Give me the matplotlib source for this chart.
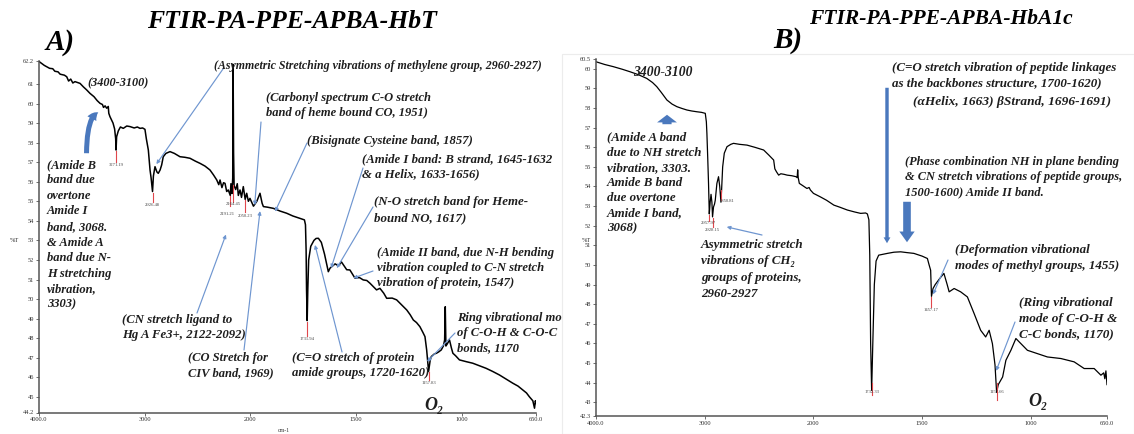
import numpy as np
import matplotlib
matplotlib.use("Agg")
import matplotlib.pyplot as plt
from matplotlib.patches import FancyArrowPatch, Rectangle

W, H = 1134, 434

# ---------------- data: spectrum A (PA-PPE-APBA-HbT) ----------------
hbt_wn = [4000, 3950, 3900, 3870, 3850, 3820, 3800, 3760, 3738, 3720, 3700, 3680, 3660,
          3612, 3580, 3550, 3518, 3480, 3450, 3423, 3400, 3390, 3375, 3360, 3345, 3340,
          3329, 3300, 3285, 3275, 3271.19, 3266, 3250, 3230, 3203, 3170, 3139, 3100, 3070,
          3045, 3020, 2998, 2985, 2966, 2950, 2940, 2926.48, 2918, 2903, 2885, 2872, 2855,
          2840, 2825, 2800, 2761, 2720, 2667, 2620, 2572, 2520, 2477, 2430, 2383, 2350,
          2319, 2300, 2288, 2270, 2255, 2241, 2225, 2210, 2191.21, 2185, 2175, 2168,
          2164.45, 2160, 2155, 2140, 2125, 2115, 2099, 2085, 2068, 2050.23, 2036, 2020,
          2005, 1986, 1970, 1955, 1945, 1939, 1920, 1892, 1860, 1829, 1800, 1766, 1745,
          1740, 1737, 1735, 1731.94, 1729, 1725, 1715, 1700, 1690, 1679, 1665, 1650,
          1640, 1632, 1624, 1600, 1584, 1570, 1545, 1530, 1506, 1485, 1467, 1450,
          1435, 1404, 1388, 1370, 1356, 1330, 1309, 1285, 1261, 1245, 1230, 1215,
          1199, 1185, 1175, 1167, 1157.83, 1150, 1145, 1130, 1121, 1110, 1098, 1088,
          1082, 1079, 1076, 1070, 1059, 1050, 1043, 1030, 1012, 980, 949, 920, 886,
          855, 823, 790, 760, 735, 712, 695, 681, 665, 657, 653, 650]
hbt_T = [62.15, 61.95, 61.8, 61.78, 61.65, 61.62, 61.5, 61.45, 61.37, 61.15, 61.25, 61.05,
         61.12, 61.03, 60.85, 60.7, 60.52, 60.35, 60.15, 60.01, 59.95, 59.8, 59.88, 59.76,
         59.85, 59.5, 59.33, 59.0, 58.7, 58.2, 57.62, 58.3, 58.6, 58.8, 58.73, 58.85,
         58.82, 58.75, 58.8, 58.73, 58.75, 58.68, 58.2, 57.62, 56.6, 56.2, 55.5, 56.3,
         56.77, 56.5, 56.43, 56.6, 56.86, 57.28, 57.45, 57.54, 57.45, 57.28, 57.25, 57.2,
         57.05, 56.94, 56.8, 56.6, 56.35, 56.09, 55.85, 56.09, 55.7, 55.95, 55.92, 55.5,
         55.58, 55.3, 55.9, 55.4, 56.2, 62.0, 57.5, 55.8, 55.6, 55.9, 55.3, 55.58, 55.2,
         55.75, 55.1, 55.41, 55.0, 55.15, 54.75, 55.0, 55.41, 54.9, 54.73, 54.7, 54.64,
         54.5, 54.39, 54.25, 54.13, 54.05, 53.8, 52.5, 50.5, 48.9, 50.5, 52.0, 52.7,
         53.0, 53.1, 53.11, 52.9, 52.3, 51.8, 51.4, 51.58, 51.8, 51.7, 51.9, 51.5, 51.49,
         51.07, 51.1, 50.98, 50.95, 50.81, 50.47, 50.55, 50.3, 50.04, 50.05, 49.96, 49.7,
         49.44, 49.2, 48.93, 48.8, 48.59, 48.3, 48.08, 47.4, 46.3, 46.9, 47.06, 47.2,
         47.23, 47.3, 47.4, 47.6, 47.91, 49.61, 47.6, 47.7, 47.91, 47.5, 47.23, 47.1,
         46.89, 46.8, 46.72, 46.6, 46.46, 46.3, 46.12, 45.9, 45.7, 45.55, 45.35, 45.2,
         45.0, 44.8, 44.42, 44.8, 44.67]
hbt_peaks = [3271.19, 2926.48, 2164.45, 2191.21, 2050.23, 1731.94, 1157.83]

# ---------------- data: spectrum B (PA-PPE-APBA-HbA1c) ----------------
hba_wn = [4000, 3920, 3841, 3760, 3687, 3610, 3533, 3480, 3441, 3400, 3348, 3300,
          3256, 3210, 3164, 3120, 3072, 3030, 2995, 2985, 2980, 2972, 2965, 2957.97,
          2950, 2942, 2934, 2928.15, 2919, 2910, 2903, 2888, 2873, 2862, 2850.81, 2845,
          2835, 2820, 2795, 2760, 2735, 2680, 2611, 2540, 2458, 2410, 2375, 2366, 2355,
          2340, 2320, 2300, 2270, 2242, 2200, 2160, 2150, 2145, 2140, 2130, 2100, 2060,
          2040, 2028, 2000, 1968, 1940, 1906, 1880, 1844, 1810, 1783, 1760, 1752, 1745,
          1741, 1737, 1732.33, 1727, 1720, 1712, 1700, 1660, 1630, 1599, 1570, 1538,
          1500, 1476, 1468, 1461, 1457.17, 1450, 1440, 1420, 1400, 1385, 1376, 1353,
          1323, 1292, 1261, 1231, 1208, 1192, 1177, 1165, 1157.66, 1150, 1130, 1115,
          1092, 1069, 1046, 1016, 970, 924, 862, 801, 755, 709, 678, 665, 660, 655, 650]
hba_T = [60.36, 60.22, 60.11, 59.98, 59.85, 59.7, 59.51, 59.3, 59.09, 58.8, 58.41, 58.2,
         58.07, 57.98, 57.9, 57.85, 57.81, 57.78, 57.73, 57.3, 56.71, 55.4, 54.16, 52.6,
         53.2, 53.6, 53.2, 52.45, 52.96, 53.1, 53.3, 54.16, 54.5, 54.0, 53.2, 53.8,
         55.0, 55.7, 56.03, 56.15, 56.2, 56.15, 56.11, 56.0, 55.86, 55.6, 55.4, 55.35, 54.9,
         54.75, 54.58, 54.65, 54.62, 54.58, 54.55, 54.5, 54.45, 54.85, 54.45, 54.16, 54.05, 53.9,
         53.95, 53.82, 53.65, 53.47, 53.3, 53.05, 52.95, 52.8, 52.7, 52.63, 52.65, 52.6, 52.3,
         50.5, 46.0, 43.6, 46.0, 49.0, 50.2, 50.5, 50.59, 50.65, 50.67, 50.63, 50.59,
         50.45, 50.33, 50.0, 49.73, 48.4, 48.8, 49.0, 49.3, 49.57, 49.0, 48.63, 48.8,
         48.63, 48.37, 47.52, 46.67, 46.33, 46.67, 45.99, 44.9, 43.5, 43.9, 44.29, 45.14,
         45.65, 46.25, 45.99, 45.65, 45.48, 45.31, 45.23, 45.06, 44.72, 44.72, 44.38, 44.5, 44.2, 44.6, 43.9]
hba_peaks = [2957.97, 2928.15, 2850.81, 1732.33, 1457.17, 1157.66]

x_ticks = [4000, 3000, 2000, 1500, 1000, 650]
x_ticklabels = ["4000.0", "3000", "2000", "1500", "1000", "650.0"]
hbt_ylim = (44.2, 62.2)
hba_ylim = (42.3, 60.5)

# ---------------- styling helpers ----------------
SERIF = ["Liberation Serif", "DejaVu Serif"]
BI = dict(family=SERIF, style="italic", weight="bold", color="#1e1e1e")
BLUE = "#4a78bd"
LBLUE = "#6f96d0"
RED = "#e0474c"
Z_A, Z_CARD, Z_B = 3, 3.5, 5      # drawing layers: panel A, card of panel B, panel B

fig = plt.figure(figsize=(W / 100, H / 100), dpi=100)
fig.patch.set_facecolor("white")


def fpos(x, y):
    """pixel position measured from the top-left corner -> figure fraction"""
    return (x / W, 1 - y / H)


def ftext(x, y, s, size=9.2, ha="left", va="center", zorder=Z_A, **kw):
    st = dict(BI)
    st.update(kw)
    return fig.text(*fpos(x, y), s, fontsize=size, ha=ha, va=va, zorder=zorder, **st)


def block(x, y, step, lines, size=9.2, **kw):
    """stack of text lines; y is the centre of the first line"""
    for i, s in enumerate(lines):
        ftext(x, y + i * step, s, size=size, **kw)


def forward(x):
    x = np.asarray(x, dtype=float)
    return np.where(x >= 2000, x, 2 * x - 2000)


def inverse(u):
    u = np.asarray(u, dtype=float)
    return np.where(u >= 2000, u, (u + 2000) / 2)


def make_axes(rect_px, ylim, yticks, yticklabels, zorder):
    x0, y0, x1, y1 = rect_px
    ax = fig.add_axes([x0 / W, 1 - y1 / H, (x1 - x0) / W, (y1 - y0) / H])
    ax.set_zorder(zorder)
    ax.set_xscale("function", functions=(forward, inverse))
    ax.set_xlim(4000, 650)
    ax.set_ylim(*ylim)
    ax.patch.set_alpha(0)
    for s in ("top", "right"):
        ax.spines[s].set_visible(False)
    for s in ("left", "bottom"):
        ax.spines[s].set_color("#555555")
        ax.spines[s].set_linewidth(1.1)
    ax.set_xticks(x_ticks)
    ax.set_xticklabels(x_ticklabels)
    ax.set_yticks(yticks)
    ax.set_yticklabels(yticklabels)
    ax.minorticks_off()
    ax.tick_params(axis="both", length=2, width=0.6, color="#555555",
                   labelsize=4.6, pad=1.5, labelcolor="#333333")
    for lab in ax.get_xticklabels() + ax.get_yticklabels():
        lab.set_family(SERIF)
    return ax


def peak_marks(ax, peaks, depth, label_dy, dx=None, fs=3.3):
    for i, p in enumerate(peaks):
        top, length = depth[i]
        ax.plot([p, p], [top, top - length], color=RED, lw=0.8, zorder=3)
        ox = 0 if dx is None else dx[i]
        ax.text(p + ox, top - length - label_dy[i], f"{p:.2f}", fontsize=fs,
                ha="center", va="top", family=SERIF, color="#444444", zorder=4)


def pointer(ax, xy, start_px, head=True, color=LBLUE, lw=0.85):
    ax.annotate("", xy=xy, xycoords="data", xytext=fpos(*start_px),
                textcoords="figure fraction", annotation_clip=False,
                arrowprops=dict(arrowstyle="-|>" if head else "-", color=color,
                                lw=lw, mutation_scale=5, shrinkA=0, shrinkB=0))


# ================= panel A =================
axA = make_axes((39, 60.5, 536, 412.5), hbt_ylim,
                [44.2] + list(range(45, 62)) + [62.2],
                ["44.2"] + [str(v) for v in range(45, 62)] + ["62.2"], zorder=0)
axA.plot(hbt_wn, hbt_T, color="black", lw=1.1, zorder=2)
peak_marks(axA, hbt_peaks,
           depth=[(57.55, 0.55), (55.45, 0.5), (55.85, 0.9), (55.25, 0.5), (55.05, 0.6),
                  (48.85, 0.75), (46.25, 0.4)],
           label_dy=[0.05, 0.05, 0.0, 0.3, 0.1, 0.05, 0.05],
           dx=[0, 0, 0, 25, 0, 0, 0])

ftext(87, 83, "(3400-3100)", size=8.8)
block(47, 165, 15.5, ["(Amide B", "band due", "overtone", "Amide I", "band, 3068.",
                      "& Amide A", "band due N-", "H stretching", "vibration,", "3303)"], size=9.0)
ftext(214, 66, "(Asymmetric Stretching vibrations of methylene group, 2960-2927)", size=8.6)
block(266, 98, 15, ["(Carbonyl spectrum C-O stretch", "band of heme bound CO, 1951)"], size=9.0)
ftext(307, 141, "(Bisignate Cysteine band, 1857)", size=9.1)
block(362, 159, 15, ["(Amide I band: B strand, 1645-1632", "& a Helix, 1633-1656)"], size=9.2)
block(374, 202, 16.5, ["(N-O stretch band for Heme-", "bound NO, 1617)"], size=9.3)
block(377, 253, 15, ["(Amide II band, due N-H bending", "vibration coupled to C-N stretch",
                     "vibration of protein, 1547)"], size=9.05)
block(122, 320, 15, ["(CN stretch ligand to", "Hg A Fe3+, 2122-2092)"], size=9.2)
block(188, 358, 15, ["(CO Stretch for", "CIV band, 1969)"], size=9.0)
block(292, 358, 15, ["(C=O stretch of protein", "amide groups, 1720-1620)"], size=9.2)
block(457, 318, 15, ["Ring vibrational mode", "of C-O-H & C-O-C", "bonds, 1170"], size=9.1)
ftext(424, 405, "O\u2082", size=13)
fig.text(*fpos(10, 240), "%T", fontsize=4.6, family=SERIF, color="#333333",
         ha="left", va="center")
fig.text(*fpos(284, 431), "cm-1", fontsize=4.2, family=SERIF, color="#333333",
         ha="center", va="center")

pointer(axA, (2890, 56.9), (223, 69))
pointer(axA, (1980, 54.8), (261, 122))
pointer(axA, (1955, 54.5), (244, 350))
pointer(axA, (2232, 53.3), (197, 313))
pointer(axA, (1884, 54.47), (307, 143))
pointer(axA, (1619, 51.58), (363, 168))
pointer(axA, (1592, 51.58), (373, 207))
pointer(axA, (1514, 51.07), (373, 271))
pointer(axA, (1695, 52.77), (342, 352))
pointer(axA, (1165, 46.8), (455, 333))

# curved blue arrow next to the 3400-3100 region
fig.patches.append(FancyArrowPatch(
    fpos(86.5, 156), fpos(101, 112), transform=fig.transFigure,
    connectionstyle="angle3,angleA=90,angleB=0",
    arrowstyle="simple,head_length=0.8,head_width=0.9,tail_width=0.45",
    mutation_scale=8, color=BLUE, lw=0, zorder=Z_A))

ftext(60, 42, "A)", size=21, ha="center", color="black")
ftext(292, 21, "FTIR-PA-PPE-APBA-HbT", size=18.5, ha="center", color="black")

# panel B sits on its own white card above panel A (it hides the overflow of panel A)
fig.patches.append(Rectangle(fpos(562, 434), 572 / W, 380 / H, transform=fig.transFigure,
                             facecolor="white", edgecolor="#ececec", lw=0.8, zorder=Z_CARD))

# ================= panel B =================
axB = make_axes((596, 59, 1107, 416), hba_ylim,
                [42.3] + list(range(43, 61)) + [60.5],
                ["42.3"] + [str(v) for v in range(43, 61)] + ["60.5"], zorder=Z_B)
axB.plot(hba_wn, hba_T, color="black", lw=0.9, zorder=2)
peak_marks(axB, hba_peaks,
           depth=[(52.55, 0.3), (52.4, 0.45), (53.8, 0.5), (44.0, 0.65), (48.37, 0.5), (43.97, 0.85)],
           label_dy=[0.0, 0.05, -0.05, -0.3, 0.05, -0.5],
           dx=[10, 0, -60, 0, 0, 0])

zb = dict(zorder=Z_B + 1)
ftext(633, 72, "3400-3100", size=9.8, **zb)
block(607, 137.5, 15.2, ["(Amide A band", "due to NH stretch", "vibration, 3303.", "Amide B band",
                         "due overtone", "Amide I band,", "3068)"], size=9.3, **zb)
block(701, 245, 16.3, ["Asymmetric stretch", "vibrations of CH\u2082", "groups of proteins,",
                       "2960-2927"], size=9.4, **zb)
block(892, 68, 15, ["(C=O stretch vibration of peptide linkages",
                    "as the backbones structure, 1700-1620)"], size=9.4, **zb)
ftext(913, 102, "(\u03b1Helix, 1663) \u03b2Strand, 1696-1691)", size=9.6, **zb)
block(905, 162, 15, ["(Phase combination NH in plane bending",
                     "& CN stretch vibrations of peptide groups,",
                     "1500-1600) Amide II band."], size=8.9, **zb)
block(955, 250, 16.5, ["(Deformation vibrational", "modes of methyl groups, 1455)"], size=9.4, **zb)
block(1019, 303, 15.8, ["(Ring vibrational", "mode of C-O-H &", "C-C bonds, 1170)"], size=9.5, **zb)
ftext(1028, 402, "O\u2082", size=13, **zb)
fig.text(*fpos(582, 240), "%T", fontsize=4.6, family=SERIF, color="#333333",
         ha="left", va="center", zorder=Z_B + 1)

pointer(axB, (2798, 51.94), (762, 235), lw=0.9)
pointer(axB, (1450, 48.5), (948, 260))
pointer(axB, (1160, 44.6), (1015, 322))

# long pointer for the C=O peptide band and block arrows
fig.patches.append(FancyArrowPatch(
    fpos(887, 85), fpos(887, 246), transform=fig.transFigure,
    arrowstyle="simple,head_length=0.6,head_width=0.7,tail_width=0.35",
    mutation_scale=7, color=BLUE, lw=0, zorder=Z_B + 1))
fig.patches.append(FancyArrowPatch(
    fpos(907, 199), fpos(907, 245), transform=fig.transFigure,
    arrowstyle="simple,head_length=0.7,head_width=1.0,tail_width=0.5",
    mutation_scale=11, color=BLUE, lw=0, zorder=Z_B + 1))
fig.patches.append(FancyArrowPatch(
    fpos(667, 127), fpos(667, 112), transform=fig.transFigure,
    arrowstyle="simple,head_length=0.5,head_width=1.3,tail_width=0.6",
    mutation_scale=11, color=BLUE, lw=0, zorder=Z_B + 1))

ftext(788, 40, "B)", size=21, ha="center", color="black", **zb)
ftext(941, 19, "FTIR-PA-PPE-APBA-HbA1c", size=15.5, ha="center", color="black", **zb)

fig.savefig("out.png", dpi=100, facecolor="white")
